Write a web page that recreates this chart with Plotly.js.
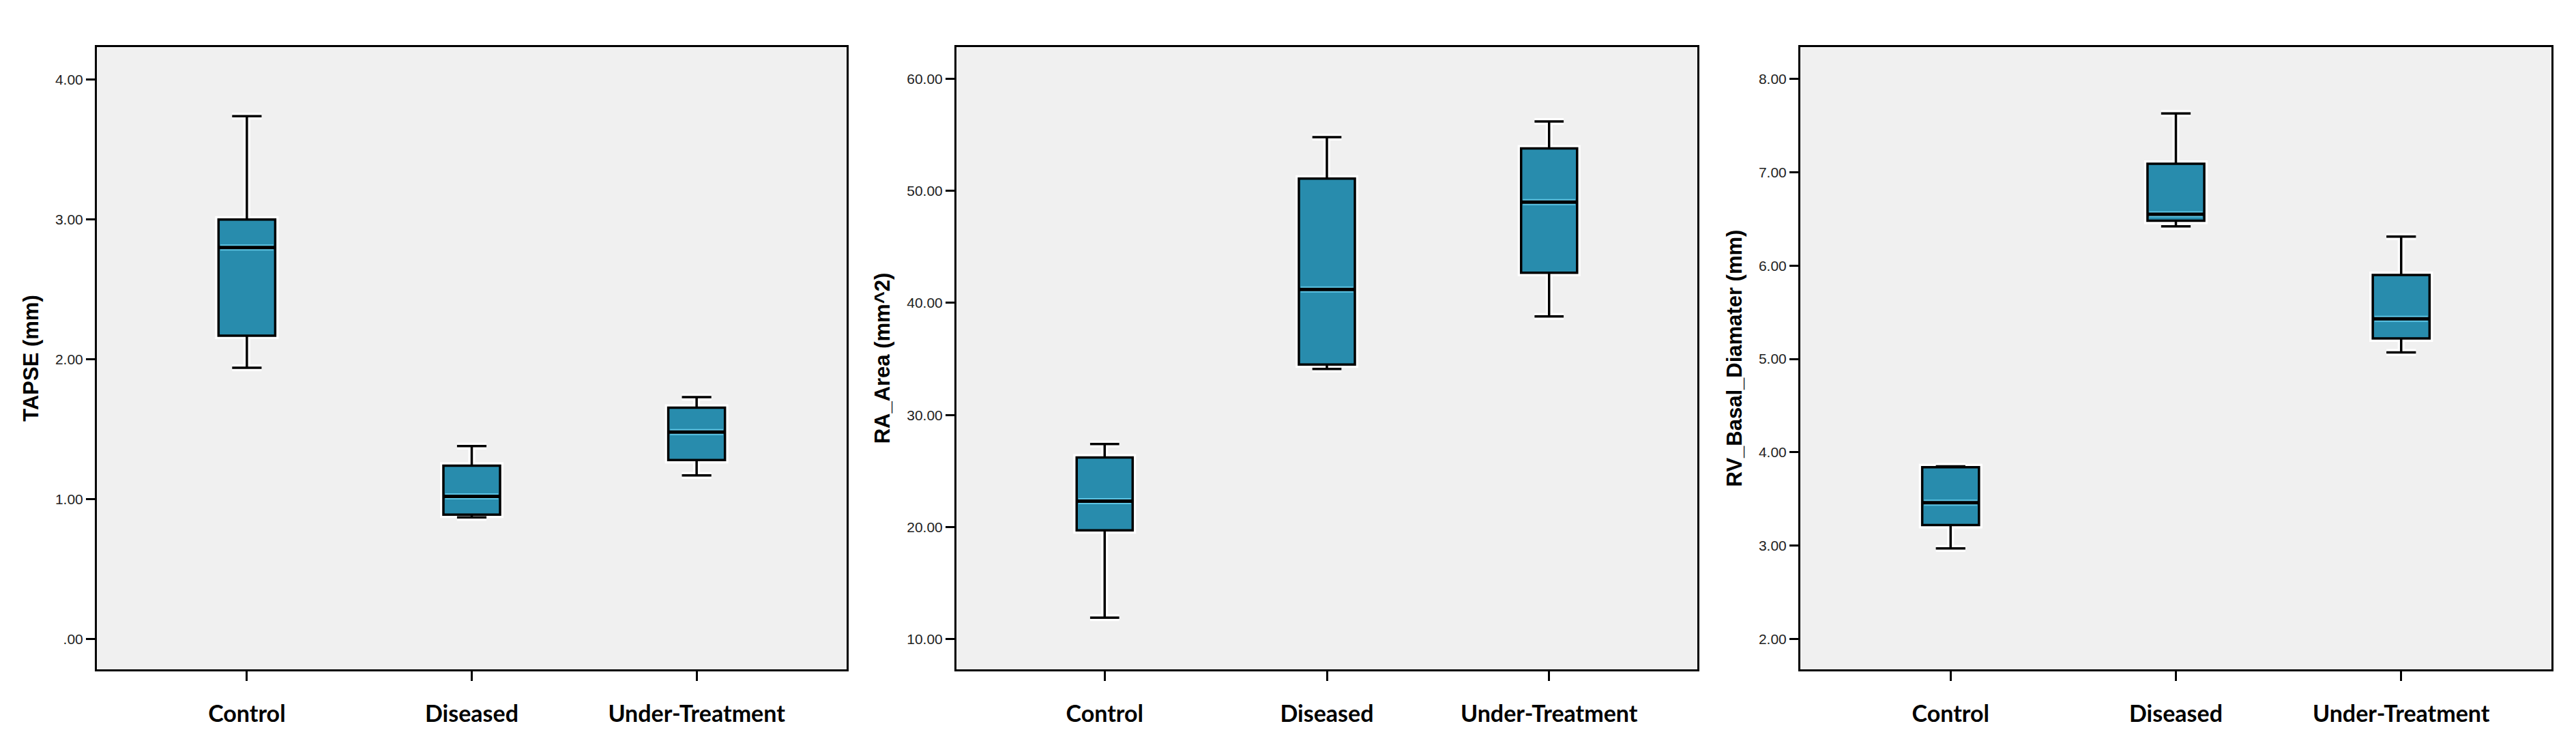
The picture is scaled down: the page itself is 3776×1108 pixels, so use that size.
<!DOCTYPE html>
<html>
<head>
<meta charset="utf-8">
<script src="https://cdn.plot.ly/plotly-3.0.1.min.js"></script>
<style>
  html, body { margin: 0; padding: 0; background: #ffffff; }
  #chart { width: 3776px; height: 1108px; }
</style>
</head>
<body>
<div id="chart"></div>
<script>
// ---- data ----
const categories = ['Control', 'Diseased', 'Under-Treatment'];

const tapseLower  = [1.94, 0.87, 1.17];
const tapseQ1     = [2.17, 0.89, 1.28];
const tapseMedian = [2.80, 1.02, 1.48];
const tapseQ3     = [3.00, 1.24, 1.655];
const tapseUpper  = [3.74, 1.38, 1.73];

const raLower  = [11.9, 34.1, 38.8];
const raQ1     = [19.7, 34.5, 42.7];
const raMedian = [22.3, 41.2, 49.0];
const raQ3     = [26.2, 51.1, 53.8];
const raUpper  = [27.4, 54.8, 56.2];

const rvLower  = [2.97, 6.42, 5.07];
const rvQ1     = [3.22, 6.48, 5.22];
const rvMedian = [3.46, 6.55, 5.43];
const rvQ3     = [3.84, 7.09, 5.90];
const rvUpper  = [3.85, 7.63, 6.31];

const tapseTickVals = [0, 1, 2, 3, 4];
const tapseTickText = ['.00', '1.00', '2.00', '3.00', '4.00'];
const raTickVals = [10, 20, 30, 40, 50, 60];
const raTickText = ['10.00', '20.00', '30.00', '40.00', '50.00', '60.00'];
const rvTickVals = [2, 3, 4, 5, 6, 7, 8];
const rvTickText = ['2.00', '3.00', '4.00', '5.00', '6.00', '7.00', '8.00'];

const yTitles = ['TAPSE (mm)', 'RA_Area (mm^2)', 'RV_Basal_Diamater (mm)'];

// ---- styling ----
const BOX_FILL = '#288cad';
const MEDIAN_LIGHT = '#5cc4e4';
const BOX_W = 0.252;
const WHISK_W = 0.52;

const panels = [
  {lo: tapseLower, q1: tapseQ1, med: tapseMedian, q3: tapseQ3, hi: tapseUpper,
   tv: tapseTickVals, tt: tapseTickText, range: [-0.217, 4.234], dom: [142, 1241]},
  {lo: raLower, q1: raQ1, med: raMedian, q3: raQ3, hi: raUpper,
   tv: raTickVals, tt: raTickText, range: [7.29, 62.84], dom: [1402, 2488]},
  {lo: rvLower, q1: rvQ1, med: rvMedian, q3: rvQ3, hi: rvUpper,
   tv: rvTickVals, tt: rvTickText, range: [1.675, 8.34], dom: [2639, 3740]}
];

const W = 3776, H = 1108;
const traces = [];
const shapes = [];
const layout = {
  width: W, height: H,
  margin: {l: 0, r: 0, t: 0, b: 0},
  paper_bgcolor: '#ffffff',
  plot_bgcolor: '#f0f0f0',
  showlegend: false,
  boxmode: 'overlay'
};

panels.forEach((p, i) => {
  const n = i === 0 ? '' : String(i + 1);
  const xa = 'x' + n, ya = 'y' + n;
  // white halo under the box
  traces.push({
    type: 'box', xaxis: xa, yaxis: ya,
    x: categories, q1: p.q1, median: p.med, q3: p.q3,
    lowerfence: p.lo, upperfence: p.hi,
    width: BOX_W, whiskerwidth: WHISK_W,
    fillcolor: BOX_FILL,
    line: {color: '#ffffff', width: 10},
    hoverinfo: 'skip'
  });
  // main box
  traces.push({
    type: 'box', xaxis: xa, yaxis: ya,
    x: categories, q1: p.q1, median: p.med, q3: p.q3,
    lowerfence: p.lo, upperfence: p.hi,
    width: BOX_W, whiskerwidth: WHISK_W,
    fillcolor: BOX_FILL,
    line: {color: '#000000', width: 3.5}
  });
  // median highlight + heavy median line, positioned from the data arrays
  p.med.forEach((m, k) => {
    shapes.push({type: 'line', xref: xa, yref: ya,
      x0: k - BOX_W / 2 + 0.008, x1: k + BOX_W / 2 - 0.008, y0: m, y1: m,
      line: {color: MEDIAN_LIGHT, width: 9}, layer: 'above'});
    shapes.push({type: 'line', xref: xa, yref: ya,
      x0: k - BOX_W / 2, x1: k + BOX_W / 2, y0: m, y1: m,
      line: {color: '#000000', width: 5}, layer: 'above'});
  });

  layout['xaxis' + n] = {
    domain: [p.dom[0] / W, p.dom[1] / W],
    anchor: ya,
    type: 'category',
    range: [-0.667, 2.667],
    showgrid: false, zeroline: false,
    showline: true, linecolor: '#000000', linewidth: 3, mirror: true,
    ticks: 'outside', ticklen: 14, tickwidth: 3, tickcolor: '#000000',
    ticklabelstandoff: 19,
    tickfont: {family: 'Lato, "Open Sans", sans-serif', size: 34, color: '#000000', weight: 'bold'},
    fixedrange: true
  };
  layout['yaxis' + n] = {
    domain: [(H - 981) / H, (H - 69) / H],
    anchor: xa,
    range: p.range,
    tickvals: p.tv, ticktext: p.tt,
    showgrid: false, zeroline: false,
    showline: true, linecolor: '#000000', linewidth: 3, mirror: true,
    ticks: 'outside', ticklen: 13, tickwidth: 3, tickcolor: '#000000',
    tickfont: {family: '"Liberation Sans", Arial, sans-serif', size: 21, color: '#222222'},
    title: {text: yTitles[i], standoff: 16,
      font: {family: '"Liberation Sans", Arial, sans-serif', size: 31, color: '#000000', weight: 'bold'}},
    fixedrange: true
  };
});
layout.shapes = shapes;

Plotly.newPlot('chart', traces, layout, {staticPlot: true, displayModeBar: false});
</script>
</body>
</html>
